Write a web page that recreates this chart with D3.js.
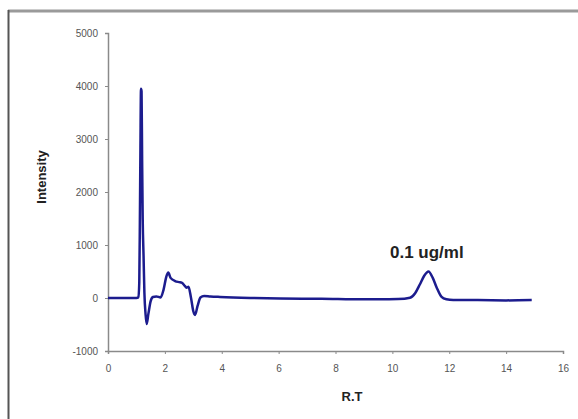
<!DOCTYPE html>
<html>
<head>
<meta charset="utf-8">
<script src="https://d3js.org/d3.v7.min.js"></script>
<style>
  body { margin: 0; background: #fff; }
  svg { display: block; }
</style>
</head>
<body>
<script>
// retention time (min) and detector intensity
var rt = [0, 0.5, 1.0, 1.07, 1.10, 1.12, 1.14, 1.16, 1.18, 1.20, 1.22, 1.25, 1.28, 1.32, 1.36, 1.42, 1.50, 1.58, 1.70, 1.85, 1.95, 2.05, 2.12, 2.20, 2.36, 2.50, 2.59, 2.70, 2.76, 2.83, 2.92, 3.00, 3.06, 3.15, 3.25, 3.38, 3.60, 3.94, 5.0, 6.05, 7.5, 8.97, 9.56, 10.2, 10.62, 10.8, 10.97, 11.12, 11.27, 11.42, 11.56, 11.73, 11.9, 12.14, 13.0, 14.0, 14.9];
var intensity = [0, 0, 0, 10, 300, 1400, 2800, 3950, 3900, 2600, 1500, 800, 100, -300, -490, -300, -60, 20, 30, 10, 150, 400, 480, 380, 320, 300, 290, 230, 195, 210, 0, -250, -320, -150, 10, 40, 30, 20, 0, -10, -15, -25, -25, -20, 5, 90, 260, 420, 500, 380, 195, 20, -25, -40, -40, -45, -40];

var yTicks = [-1000, 0, 1000, 2000, 3000, 4000, 5000];
var xTicks = [0, 2, 4, 6, 8, 10, 12, 14, 16];

var width = 578, height = 419;
var font = "Liberation Sans, Arial, sans-serif";
var svg = d3.select("body").append("svg")
    .attr("width", width)
    .attr("height", height);

// chart frame (top and left edges only show)
svg.append("line")
    .attr("x1", 8).attr("x2", width).attr("y1", 11).attr("y2", 11)
    .style("stroke", "#9a9a9a").style("stroke-width", 3);
svg.append("line")
    .attr("x1", 8.5).attr("x2", 8.5).attr("y1", 10).attr("y2", height)
    .style("stroke", "#555").style("stroke-width", 2);

var x = d3.scaleLinear().domain([0, 16]).range([108, 563]);
var y = d3.scaleLinear().domain([-1000, 5000]).range([351, 33]);

var xAxis = svg.append("g")
    .attr("transform", "translate(0," + y(-1000) + ")")
    .call(d3.axisBottom(x).tickValues(xTicks).tickFormat(d3.format("d")).tickSize(3).tickPadding(11));
var yAxis = svg.append("g")
    .attr("transform", "translate(" + x(0) + ",0)")
    .call(d3.axisLeft(y).tickValues(yTicks).tickFormat(function(d) { return String(d); }).tickSize(3).tickPadding(7));

[xAxis, yAxis].forEach(function(a) {
    a.select(".domain").style("stroke", "#8a8a8a").style("stroke-width", 1.5);
    a.selectAll(".tick line").style("stroke", "#8a8a8a");
    a.selectAll("text")
        .style("font-family", font)
        .style("font-size", "10px")
        .style("fill", "#555");
});

var pts = rt.map(function(d, i) { return [d, intensity[i]]; });
var line = d3.line()
    .x(function(d) { return x(d[0]); })
    .y(function(d) { return y(d[1]); })
    .curve(d3.curveMonotoneX);

svg.append("path")
    .datum(pts)
    .attr("d", line)
    .style("fill", "none")
    .style("stroke", "#1c1c8e")
    .style("stroke-width", 2.5)
    .style("stroke-linejoin", "round");

// labels
svg.append("text")
    .attr("x", 352).attr("y", 401)
    .attr("text-anchor", "middle")
    .style("font-family", font)
    .style("font-size", "13px").style("font-weight", "bold")
    .style("fill", "#222")
    .text("R.T");

svg.append("text")
    .attr("transform", "translate(46,177) rotate(-90)")
    .attr("text-anchor", "middle")
    .style("font-family", font)
    .style("font-size", "13px").style("font-weight", "bold")
    .style("fill", "#222")
    .text("Intensity");

svg.append("text")
    .attr("x", 390).attr("y", 258)
    .style("font-family", font)
    .style("font-size", "17px").style("font-weight", "bold")
    .style("fill", "#222")
    .text("0.1 ug/ml");
</script>
</body>
</html>
